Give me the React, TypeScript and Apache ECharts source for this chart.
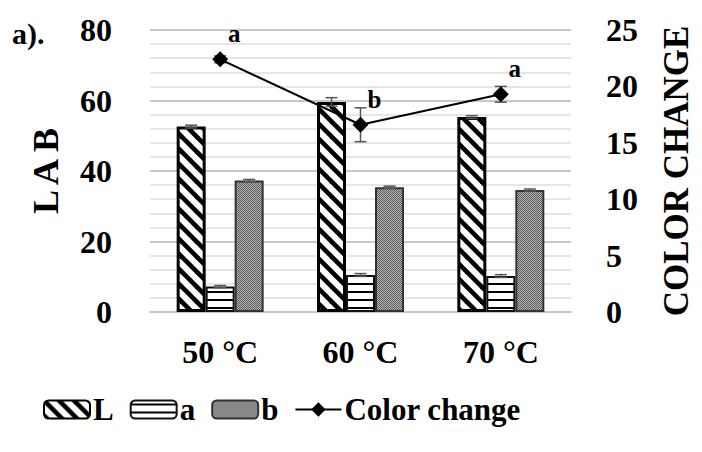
import React, { useEffect, useRef } from "react";
import * as echarts from "echarts";

// Temperatures on the category axis
const categories = ["50 °C", "60 °C", "70 °C"];

// Colour coordinates (left axis)
const lValues = [52.6, 59.6, 55.3];
const aValues = [7.2, 10.5, 10.2];
const bValues = [37.3, 35.4, 34.6];
const lErrors = [0.4, 1.2, 0.4];
const aErrors = [0.3, 0.4, 0.4];
const bErrors = [0.3, 0.3, 0.3];

// Total colour change (right axis)
const colorChange = [22.4, 16.6, 19.3];
const colorChangeErrors = [0.3, 1.5, 0.7];
const significance = ["a", "b", "a"];

const leftTicks = { min: 0, max: 80, interval: 20 };
const rightTicks = { min: 0, max: 25, interval: 5 };

const FONT = "Liberation Serif";
const BAR_W = 29;

function makePattern(w: number, h: number, draw: (ctx: CanvasRenderingContext2D) => void) {
  const canvas = document.createElement("canvas");
  canvas.width = w;
  canvas.height = h;
  const ctx = canvas.getContext("2d")!;
  draw(ctx);
  return { image: canvas, repeat: "repeat", imageWidth: w, imageHeight: h } as any;
}

function buildPatterns() {
  const diagonal = makePattern(15, 15, (ctx) => {
    ctx.fillStyle = "#fff";
    ctx.fillRect(0, 0, 15, 15);
    ctx.strokeStyle = "#000";
    ctx.lineWidth = 4.6;
    for (let k = -1; k <= 1; k++) {
      ctx.beginPath();
      ctx.moveTo(k * 15 - 2, -2);
      ctx.lineTo(k * 15 + 17, 17);
      ctx.stroke();
    }
  });
  const horizontal = makePattern(4, 8, (ctx) => {
    ctx.fillStyle = "#fff";
    ctx.fillRect(0, 0, 4, 8);
    ctx.fillStyle = "#000";
    ctx.fillRect(0, 3, 4, 2);
  });
  const dotted = makePattern(2, 2, (ctx) => {
    ctx.fillStyle = "#b4b4b4";
    ctx.fillRect(0, 0, 2, 2);
    ctx.fillStyle = "#5c5c5c";
    ctx.fillRect(0, 0, 1, 1);
    ctx.fillRect(1, 1, 1, 1);
  });
  return { diagonal, horizontal, dotted };
}

function errorSeries(values: number[], errors: number[], yAxisIndex: number, slot: number) {
  return {
    type: "custom",
    yAxisIndex,
    z: 6,
    silent: true,
    data: values.map((v, i) => [i, v, errors[i]]),
    encode: { x: 0, y: 1 },
    renderItem: (_params: any, api: any) => {
      const i = api.value(0);
      const v = api.value(1);
      const e = api.value(2);
      const top = api.coord([i, v + e]);
      const bot = api.coord([i, v - e]);
      const x = top[0] + slot * BAR_W;
      const half = 6;
      const style = { stroke: "#555", lineWidth: 1.5 };
      return {
        type: "group",
        children: [
          { type: "line", shape: { x1: x, y1: top[1], x2: x, y2: bot[1] }, style },
          { type: "line", shape: { x1: x - half, y1: top[1], x2: x + half, y2: top[1] }, style },
          { type: "line", shape: { x1: x - half, y1: bot[1], x2: x + half, y2: bot[1] }, style },
        ],
      };
    },
  };
}

export default function App() {
  const ref = useRef<HTMLDivElement>(null);

  useEffect(() => {
    if (!ref.current) return;
    const chart = echarts.init(ref.current, null, { renderer: "svg" });
    const p = buildPatterns();
    const txt = { fontFamily: FONT, fontWeight: "bold" as const, color: "#000" };

    chart.setOption({
      animation: false,
      backgroundColor: "#fff",
      grid: { left: 150, right: 124, top: 30, bottom: 140, containLabel: false },
      graphic: [
        {
          type: "text",
          left: 12,
          top: 18,
          style: { text: "a).", fontFamily: FONT, fontWeight: "bold", fontSize: 30, fill: "#000" },
        },
      ],
      legend: {
        data: ["L", "a", "b", "Color change"],
        left: 38,
        top: 389,
        itemWidth: 46,
        itemHeight: 18,
        itemGap: 16,
        textStyle: { ...txt, fontSize: 31, padding: [0, 0, 0, -2] },
      },
      xAxis: {
        type: "category",
        data: categories,
        axisLine: { show: true, lineStyle: { color: "#c8c8c8", width: 2 } },
        axisTick: { show: false },
        axisLabel: { ...txt, fontSize: 32, margin: 24 },
      },
      yAxis: [
        {
          type: "value",
          ...leftTicks,
          name: "L A B",
          nameLocation: "middle",
          nameRotate: 90,
          nameGap: 86,
          nameTextStyle: { ...txt, fontSize: 36 },
          axisLine: { show: false },
          axisTick: { show: false },
          axisLabel: { ...txt, fontSize: 32, margin: 38 },
          splitLine: { show: true, lineStyle: { color: "#c8c8c8", width: 2 } },
          minorTick: { show: false, splitNumber: 5 },
          minorSplitLine: { show: true, lineStyle: { color: "#dedede", width: 1.5 } },
        },
        {
          type: "value",
          ...rightTicks,
          name: "COLOR CHANGE",
          nameLocation: "middle",
          nameRotate: 90,
          nameGap: 88,
          nameTextStyle: { ...txt, fontSize: 35 },
          axisLine: { show: false },
          axisTick: { show: false },
          axisLabel: { ...txt, fontSize: 32, margin: 35 },
          splitLine: { show: false },
        },
      ],
      series: [
        {
          name: "L",
          type: "bar",
          data: lValues,
          barWidth: BAR_W,
          barGap: "0%",
          itemStyle: { color: p.diagonal, borderColor: "#000", borderWidth: 3 },
        },
        {
          name: "a",
          type: "bar",
          data: aValues,
          barWidth: BAR_W,
          barGap: "0%",
          itemStyle: { color: p.horizontal, borderColor: "#111", borderWidth: 2 },
        },
        {
          name: "b",
          type: "bar",
          data: bValues,
          barWidth: BAR_W,
          barGap: "0%",
          itemStyle: { color: p.dotted, borderColor: "#333", borderWidth: 2 },
        },
        errorSeries(lValues, lErrors, 0, -1),
        errorSeries(aValues, aErrors, 0, 0),
        errorSeries(bValues, bErrors, 0, 1),
        errorSeries(colorChange, colorChangeErrors, 1, 0),
        {
          name: "Color change",
          type: "line",
          yAxisIndex: 1,
          data: colorChange,
          z: 8,
          symbol: "diamond",
          symbolSize: 16,
          lineStyle: { color: "#000", width: 2 },
          itemStyle: { color: "#000" },
          label: {
            show: true,
            position: "top",
            offset: [14, 0],
            formatter: (d: any) => significance[d.dataIndex],
            ...txt,
            fontSize: 25,
          },
        },
      ],
    });
    return () => chart.dispose();
  }, []);

  return (
    <div
      ref={ref}
      style={{ position: "absolute", left: 0, top: 0, width: 702, height: 452 }}
    />
  );
}
